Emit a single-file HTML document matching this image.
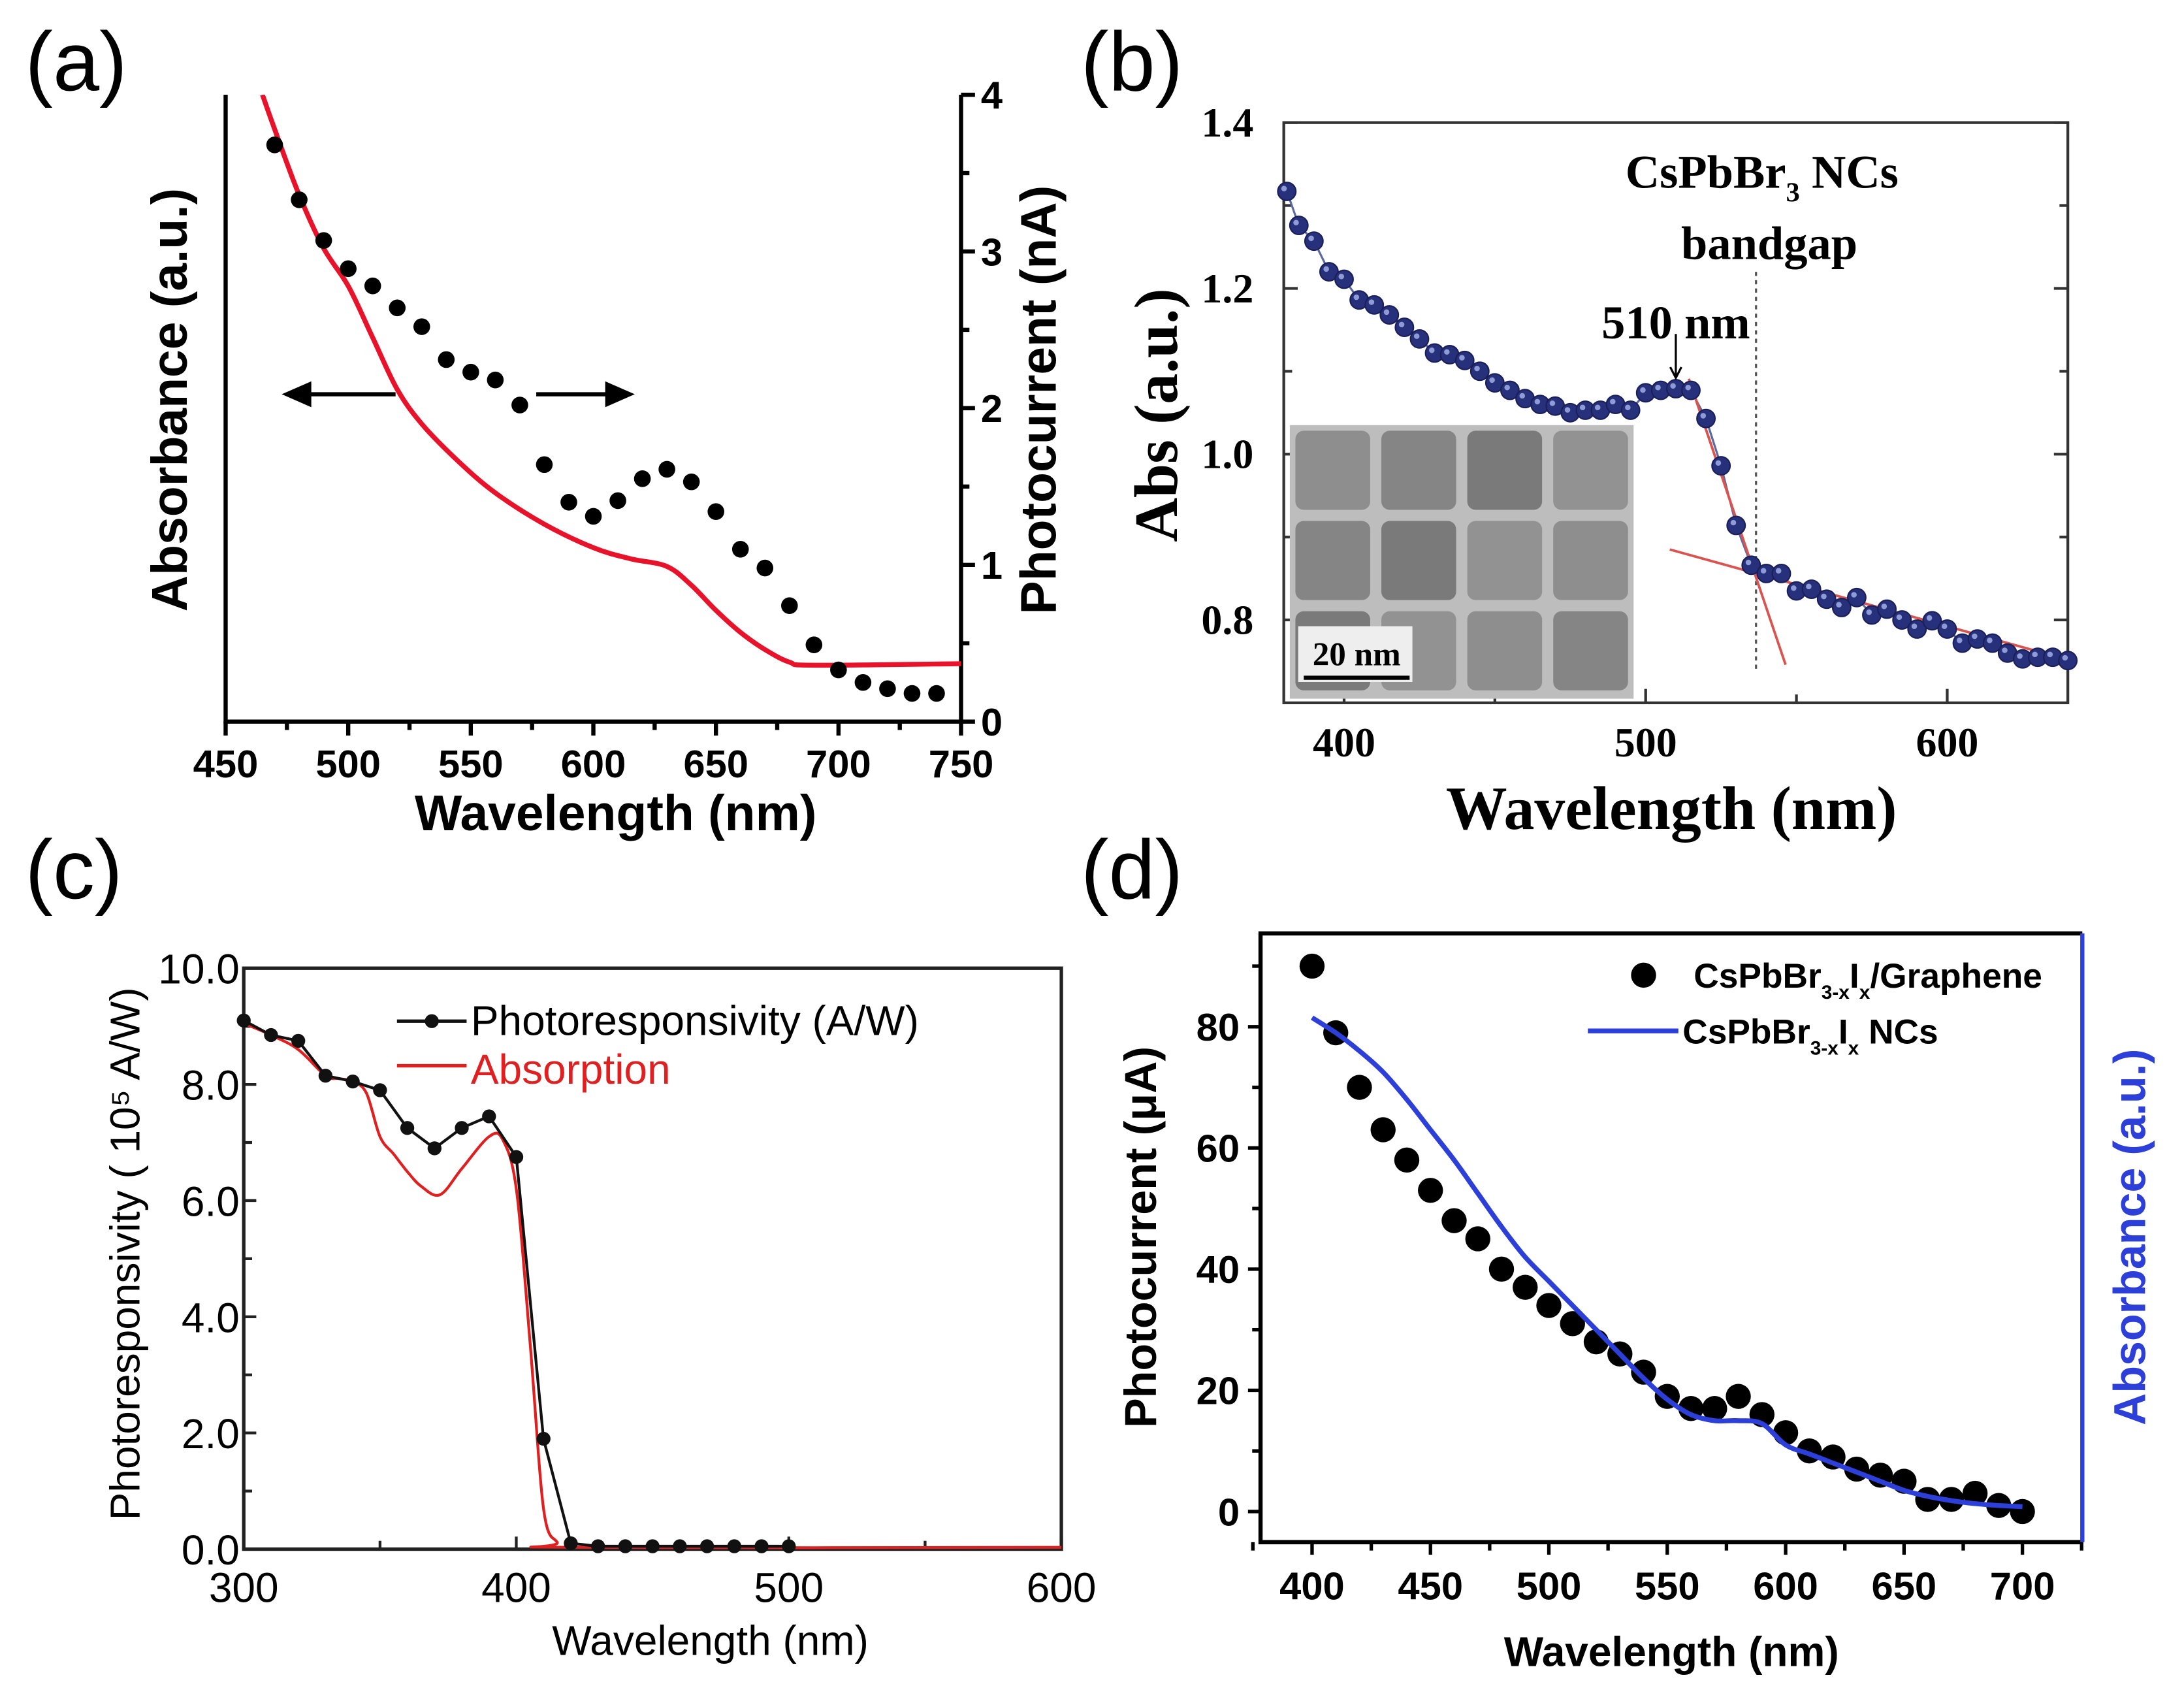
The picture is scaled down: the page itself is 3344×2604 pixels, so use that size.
<!DOCTYPE html>
<html><head><meta charset="utf-8">
<style>
html,body{margin:0;padding:0;background:#fff;}
svg{display:block;}
</style></head>
<body>
<svg id="fig" xmlns="http://www.w3.org/2000/svg" width="3344" height="2604" viewBox="0 0 1568 1221" preserveAspectRatio="none">
<rect x="0" y="0" width="1568" height="1221" fill="#fff"/>
</svg>
<script>
// ---------- Panel (a) data ----------
const aDotWl = [470,480,490,500,510,520,530,540,550,560,570,580,590,600,610,620,630,640,650,660,670,680,690,700,710,720,730,740];
const aDotPc = [3.68,3.33,3.07,2.89,2.78,2.64,2.52,2.31,2.23,2.18,2.02,1.64,1.40,1.31,1.41,1.55,1.61,1.53,1.34,1.10,0.98,0.74,0.49,0.33,0.25,0.21,0.18,0.18];
const aAbsWl = [465,470,480,490,500,510,520,530,545,560,580,600,615,630,640,650,660,670,680,690,750];
const aAbs = [4.0,3.78,3.36,3.02,2.78,2.45,2.12,1.90,1.66,1.46,1.26,1.11,1.04,0.99,0.87,0.71,0.57,0.46,0.38,0.36,0.37];
const aXTicks = [450,500,550,600,650,700,750];
const aYTicks = [0,1,2,3,4];
// ---------- Panel (b) data ----------
const bWl = [381,385,390,395,400,405,410,415,420,425,430,435,440,445,450,455,460,465,470,475,480,485,490,495,500,505,510,515,520,525,530,535,540,545,550,555,560,565,570,575,580,585,590,595,600,605,610,615,620,625,630,635,640];
const bAbs = [1.317,1.276,1.257,1.22,1.211,1.186,1.18,1.168,1.153,1.139,1.122,1.12,1.113,1.10,1.086,1.077,1.067,1.06,1.058,1.05,1.053,1.053,1.06,1.053,1.074,1.077,1.079,1.077,1.043,0.986,0.914,0.866,0.856,0.856,0.835,0.837,0.825,0.815,0.827,0.806,0.813,0.80,0.789,0.799,0.789,0.772,0.777,0.772,0.76,0.753,0.755,0.755,0.751];
const bXTicks = [400,500,600];
const bYTicks = [0.8,1.0,1.2,1.4];
const bYTickLabels = ["0.8","1.0","1.2","1.4"];
// ---------- Panel (c) data ----------
const cWl = [300,310,320,330,340,350,360,370,380,390,400,410,420,430,440,450,460,470,480,490,500];
const cResp = [9.1,8.85,8.75,8.15,8.05,7.9,7.25,6.9,7.25,7.45,6.75,1.9,0.1,0.05,0.05,0.05,0.05,0.05,0.05,0.05,0.05];
const cAbsWl = [300,310,320,330,335,340,345,350,355,360,365,372,380,390,395,400,405,410,415,420,600];
const cAbs = [9.05,8.85,8.6,8.15,8.1,8.05,7.85,7.1,6.8,6.5,6.25,6.1,6.55,7.1,7.05,6.2,3.6,0.7,0.12,0.03,0.03];
const cXTicks = [300,400,500,600];
const cYTicks = [0,2,4,6,8,10];
const cYTickLabels = ["0.0","2.0","4.0","6.0","8.0","10.0"];
// ---------- Panel (d) data ----------
const dWl = [400,410,420,430,440,450,460,470,480,490,500,510,520,530,540,550,560,570,580,590,600,610,620,630,640,650,660,670,680,690,700];
const dPc = [90,79,70,63,58,53,48,45,40,37,34,31,28,26,23,19,17,17,19,16,13,10,9,7,6,5,2,2,3,1,0];
const dAbsWl = [400,410,420,430,440,450,460,470,480,490,500,510,520,530,540,550,560,570,580,590,600,610,620,630,640,650,660,670,680,690,700];
const dAbs = [81.5,79,76,72.5,68,63,58,52.5,47,42,38,34,30,26,22,18.5,16,15,15,14.5,11,9.5,8,6.5,5,3.5,2.5,1.8,1.3,1,0.8];
const dXTicks = [400,450,500,550,600,650,700];
const dYTicks = [0,20,40,60,80];

const NS = "http://www.w3.org/2000/svg";
const svg = document.getElementById('fig');
function mk(tag, attrs, parent){
  const e = document.createElementNS(NS, tag);
  for (const k in attrs) e.setAttribute(k, attrs[k]);
  (parent||svg).appendChild(e);
  return e;
}
function txt(s, x, y, size, opts, parent){
  const o = Object.assign({x:x, y:y, 'font-size':size, 'font-family':'"Liberation Sans", sans-serif', 'text-anchor':'middle'}, opts||{});
  const e = mk('text', o, parent);
  e.textContent = s;
  return e;
}
function lin(d0,d1,p0,p1){ return v => p0 + (v-d0)/(d1-d0)*(p1-p0); }
function pathFrom(xs, ys, fx, fy){
  return xs.map((v,i)=>(i?'L':'M')+fx(v).toFixed(1)+','+fy(ys[i]).toFixed(1)).join(' ');
}
function smoothFrom(xs, ys, fx, fy){
  const p = xs.map((v,i)=>[fx(v), fy(ys[i])]);
  let d = 'M'+p[0][0].toFixed(1)+','+p[0][1].toFixed(1);
  for (let i=0;i<p.length-1;i++){
    const p0=p[Math.max(0,i-1)], p1=p[i], p2=p[i+1], p3=p[Math.min(p.length-1,i+2)];
    const c1=[p1[0]+(p2[0]-p0[0])/6, p1[1]+(p2[1]-p0[1])/6];
    const c2=[p2[0]-(p3[0]-p1[0])/6, p2[1]-(p3[1]-p1[1])/6];
    d += ' C'+c1[0].toFixed(1)+','+c1[1].toFixed(1)+' '+c2[0].toFixed(1)+','+c2[1].toFixed(1)+' '+p2[0].toFixed(1)+','+p2[1].toFixed(1);
  }
  return d;
}

// Panel labels
const labels = [["(a)",18,65],["(b)",776,65],["(c)",18,645],["(d)",776,645]];
labels.forEach(l=>{
  const t = txt(l[0], l[1], l[2], 60, {'text-anchor':'start'});
  
  
});

// ================= PANEL A =================
{
  const g = mk('g', {});
  
  
  const X = lin(450,750,162,690), Y = lin(0,4,518,68);
  const ax = mk('path', {d:'M162,68 L162,518 L690,518 L690,68', fill:'none', stroke:'#000', 'stroke-width':3}, g);
  
  
  for (let v=450; v<=750; v+=25){
    const major = (v%50===0);
    const tk = mk('line', {x1:X(v), x2:X(v), y1:518, y2:518+(major?10:6), stroke:'#000','stroke-width':3}, g);
    
    
  }
  aXTicks.forEach(v=>{
    const t = txt(String(v), X(v), 558, 28, {'font-weight':'bold'}, g);
    
    
  });
  for (let v=0; v<=4; v+=0.5){
    const major = Math.abs(v-Math.round(v))<1e-6;
    const tk = mk('line', {x1:690, x2:690+(major?10:6), y1:Y(v), y2:Y(v), stroke:'#000','stroke-width':3}, g);
    
    
  }
  aYTicks.forEach(v=>{
    const t = txt(String(v), 712, Y(v)+10, 28, {'font-weight':'bold'}, g);
    
    
  });
  const xt = txt('Wavelength (nm)', 442, 596, 36, {'font-weight':'bold'}, g);
  
  
  const yl = txt('Absorbance (a.u.)', 0, 0, 36, {'font-weight':'bold', transform:'translate(134,287) rotate(-90)'}, g);
  
  
  const yr = txt('Photocurrent (nA)', 0, 0, 36, {'font-weight':'bold', transform:'translate(758,287) rotate(-90)'}, g);
  
  
  const cp = mk('clipPath', {id:'clipA'}, g);
  mk('rect', {x:162, y:68, width:528, height:450}, cp);
  const red = mk('path', {d:smoothFrom(aAbsWl, aAbs, X, Y), fill:'none', stroke:'#e8132a', 'stroke-width':3.5, 'stroke-linejoin':'round', 'clip-path':'url(#clipA)'}, g);
  
  
  aDotWl.forEach((w,i)=>{
    const c = mk('circle', {cx:X(w), cy:Y(aDotPc[i]), r:6, fill:'#000'}, g);
    
    
  });
  const al = mk('path', {d:'M284,283 L218,283 M206,283 L222,276 L222,290 Z', stroke:'#000', 'stroke-width':3, fill:'#000'}, g);
  
  
  const ar = mk('path', {d:'M385,283 L440,283 M452,283 L436,276 L436,290 Z', stroke:'#000', 'stroke-width':3, fill:'#000'}, g);
  
  
}

// ================= PANEL B =================
{
  const g = mk('g', {});
  
  
  const X = lin(400,600,965,1398), Y = lin(0.8,1.4,445,88);
  const L = X(380), R = X(640), T = Y(1.4), B = Y(0.70);
  const box = mk('rect', {x:L, y:T, width:R-L, height:B-T, fill:'none', stroke:'#333', 'stroke-width':2}, g);
  
  
  const ff = '"Liberation Serif", serif';
  for (let v=400; v<=600; v+=50){
    const major = v%100===0;
    const tk = mk('line', {x1:X(v), x2:X(v), y1:B, y2:B-(major?10:6), stroke:'#333','stroke-width':2}, g);
    
    
  }
  bXTicks.forEach(v=>{
    const t = txt(String(v), X(v), 543, 30, {'font-family':ff,'font-weight':'bold'}, g);
    
    
  });
  for (let v=0.8; v<=1.401; v+=0.1){
    const major = Math.round(v*10)%2===0;
    [[L,1],[R,-1]].forEach(s=>{
      const tk = mk('line', {x1:s[0], x2:s[0]+s[1]*(major?10:6), y1:Y(v), y2:Y(v), stroke:'#333','stroke-width':2}, g);
      
      
    });
  }
  bYTicks.forEach((v,i)=>{
    const t = txt(bYTickLabels[i], 900, Y(v)+10, 30, {'font-family':ff,'font-weight':'bold','text-anchor':'end'}, g);
    
    
  });
  const xt = txt('Wavelength (nm)', 1200, 595, 44, {'font-family':ff,'font-weight':'bold'}, g);
  
  
  const yt = txt('Abs (a.u.)', 0, 0, 44, {'font-family':ff,'font-weight':'bold', transform:'translate(845,298) rotate(-90)'}, g);
  
  
  // inset TEM image
  const ix = X(382), iy = Y(1.035), iw = X(496)-X(382), ih = Y(0.705)-Y(1.035);
  const inset = mk('g', {}, g);
  
  
  mk('rect', {x:ix, y:iy, width:iw, height:ih, fill:'#bdbdbd'}, inset);
  const cols = [0,0.25,0.5,0.75,1], rows=[0,0.33,0.66,1];
  for (let r=0;r<3;r++) for (let c=0;c<4;c++){
    const shade = ['#8e8e8e','#858585','#7a7a7a','#929292'][(r+c)%4];
    mk('rect', {x:ix+cols[c]*iw+4, y:iy+rows[r]*ih+4, width:iw*0.25-8, height:ih*0.33-8, rx:6, fill:shade}, inset);
  }
  mk('rect', {x:ix+6, y:iy+ih-52, width:82, height:40, fill:'#eee'}, inset);
  const sbt = txt('20 nm', ix+48, iy+ih-24, 24, {'font-family':ff,'font-weight':'bold'}, inset);
  
  
  mk('line', {x1:ix+10, x2:ix+86, y1:iy+ih-15, y2:iy+ih-15, stroke:'#000','stroke-width':3}, inset);
  const dl = mk('line', {x1:X(536.6), x2:X(536.6), y1:Y(1.22), y2:Y(0.74), stroke:'#555','stroke-width':1.5,'stroke-dasharray':'3,3'}, g);
  
  
  const ln = mk('path', {d:pathFrom(bWl, bAbs, X, Y), fill:'none', stroke:'#5b6aa0','stroke-width':1.5}, g);
  
  
  const f1 = mk('line', {x1:X(514.3), y1:Y(1.091), x2:X(546.4), y2:Y(0.746), stroke:'#d9534f','stroke-width':1.8}, g);
  
  
  const f2 = mk('line', {x1:X(508), y1:Y(0.885), x2:X(640), y2:Y(0.752), stroke:'#d9534f','stroke-width':1.8}, g);
  
  
  bWl.forEach((w,i)=>{
    const c = mk('circle', {cx:X(w), cy:Y(bAbs[i]), r:6.5, fill:'#27307a', stroke:'#1a1f5a','stroke-width':1}, g);
    
    
    mk('circle', {cx:X(w)-2, cy:Y(bAbs[i])-2, r:2, fill:'#8f9bd6'}, g);
  });
  const t1 = mk('text', {x:1167, y:Y(1.34)+11, 'font-size':34, 'font-family':ff, 'font-weight':'bold'}, g);
  t1.innerHTML = 'CsPbBr<tspan font-size="20" dy="10">3</tspan><tspan dy="-10"> NCs</tspan>';
  
  
  const t2 = txt('bandgap', X(541), Y(1.254)+11, 34, {'font-family':ff,'font-weight':'bold'}, g);
  
  
  const t3 = txt('510 nm', X(510), Y(1.158)+11, 34, {'font-family':ff,'font-weight':'bold'}, g);
  
  
  const arr = mk('path', {d:`M${X(510)},${Y(1.145)} L${X(510)},${Y(1.095)} M${X(510)-4},${Y(1.105)} L${X(510)},${Y(1.092)} L${X(510)+4},${Y(1.105)}`, stroke:'#000','stroke-width':1.5, fill:'none'}, g);
  
  
}

// ================= PANEL C =================
{
  const g = mk('g', {});
  
  
  const X = lin(300,600,175,762), Y = lin(0,10,1112,695);
  const box = mk('rect', {x:175, y:695, width:587, height:417, fill:'none', stroke:'#222','stroke-width':2.5}, g);
  
  
  for (let v=300; v<=600; v+=50){
    const tk = mk('line', {x1:X(v), x2:X(v), y1:1112, y2:1112-(v%100===0?9:6), stroke:'#222','stroke-width':2}, g);
    
    
  }
  cXTicks.forEach(v=>{
    const t = txt(String(v), X(v), 1150, 30, {}, g);
    
    
  });
  for (let v=0; v<=10; v+=1){
    const tk = mk('line', {x1:175, x2:175+(v%2===0?9:6), y1:Y(v), y2:Y(v), stroke:'#222','stroke-width':2}, g);
    
    
  }
  cYTicks.forEach((v,i)=>{
    const t = txt(cYTickLabels[i], 172, Y(v)+11, 30, {'text-anchor':'end'}, g);
    
    
  });
  const xt = txt('Wavelength (nm)', 510, 1188, 30, {}, g);
  
  
  const yt = txt('Photoresponsivity ( 10\u2075 A/W)', 0, 0, 30, {transform:'translate(100,900) rotate(-90)'}, g);
  
  
  const red = mk('path', {d:smoothFrom(cAbsWl, cAbs, X, Y), fill:'none', stroke:'#e02020','stroke-width':2}, g);
  
  
  const blk = mk('path', {d:pathFrom(cWl, cResp, X, Y), fill:'none', stroke:'#111','stroke-width':2}, g);
  
  
  cWl.forEach((w,i)=>{
    const c = mk('circle', {cx:X(w), cy:Y(cResp[i]), r:5, fill:'#111'}, g);
    
    
  });
  const l1 = mk('line', {x1:285, x2:335, y1:733, y2:733, stroke:'#111','stroke-width':2.5}, g);
  
  
  const l1d = mk('circle', {cx:310, cy:733, r:5, fill:'#111'}, g);
  
  
  const lt1 = txt('Photoresponsivity (A/W)', 338, 743, 30, {'text-anchor':'start'}, g);
  
  
  const l2 = mk('line', {x1:285, x2:335, y1:765, y2:765, stroke:'#e02020','stroke-width':2.5}, g);
  
  
  const lt2 = txt('Absorption', 338, 778, 30, {'text-anchor':'start', fill:'#e02020'}, g);
  
  
}

// ================= PANEL D =================
{
  const g = mk('g', {});
  
  
  const X = lin(400,700,942,1452), Y = lin(0,80,1085,737);
  const ax = mk('path', {d:'M1495,670 L905,670 L905,1107 L1495,1107', fill:'none', stroke:'#000','stroke-width':3}, g);
  
  
  const rax = mk('line', {x1:1495, x2:1495, y1:670, y2:1107, stroke:'#2c3fd8','stroke-width':3}, g);
  
  
  for (let v=375; v<=725; v+=25){
    const tk = mk('line', {x1:X(v), x2:X(v), y1:1107, y2:1107+(v%50===0?9:6), stroke:'#000','stroke-width':2.5}, g);
    
    
  }
  dXTicks.forEach(v=>{
    const t = txt(String(v), X(v), 1148, 28, {'font-weight':'bold'}, g);
    
    
  });
  for (let v=0; v<=90; v+=10){
    const tk = mk('line', {x1:905, x2:905-(v%20===0?9:6), y1:Y(v), y2:Y(v), stroke:'#000','stroke-width':2.5}, g);
    
    
  }
  dYTicks.forEach(v=>{
    const t = txt(String(v), 890, Y(v)+10, 28, {'font-weight':'bold','text-anchor':'end'}, g);
    
    
  });
  const xt = txt('Wavelength (nm)', 1200, 1196, 30, {'font-weight':'bold'}, g);
  
  
  const yt = txt('Photocurrent (\u03bcA)', 0, 0, 32, {'font-weight':'bold', transform:'translate(830,888) rotate(-90)'}, g);
  
  
  const yr = txt('Absorbance (a.u.)', 0, 0, 32, {'font-weight':'bold', fill:'#2c3fd8', transform:'translate(1540,888) rotate(-90)'}, g);
  
  
  dWl.forEach((w,i)=>{
    const c = mk('circle', {cx:X(w), cy:Y(dPc[i]), r:9, fill:'#000'}, g);
    
    
  });
  const bl = mk('path', {d:smoothFrom(dAbsWl, dAbs, X, Y), fill:'none', stroke:'#2c3fd8','stroke-width':3.5,'stroke-linejoin':'round'}, g);
  
  
  const ld = mk('circle', {cx:1180, cy:700, r:9, fill:'#000'}, g);
  
  
  const lt1 = mk('text', {x:1216, y:709, 'font-size':25, 'font-weight':'bold', 'font-family':'"Liberation Sans", sans-serif'}, g);
  lt1.innerHTML = 'CsPbBr<tspan font-size="14" dy="8">3-x</tspan><tspan dy="-8">I</tspan><tspan font-size="14" dy="8">x</tspan><tspan dy="-8">/Graphene</tspan>';
  
  
  const ll = mk('line', {x1:1140, x2:1205, y1:740, y2:740, stroke:'#2c3fd8','stroke-width':3.5}, g);
  
  
  const lt2 = mk('text', {x:1208, y:749, 'font-size':25, 'font-weight':'bold', 'font-family':'"Liberation Sans", sans-serif'}, g);
  lt2.innerHTML = 'CsPbBr<tspan font-size="14" dy="8">3-x</tspan><tspan dy="-8">I</tspan><tspan font-size="14" dy="8">x</tspan><tspan dy="-8"> NCs</tspan>';
  
  
}
</script>
</body></html>
